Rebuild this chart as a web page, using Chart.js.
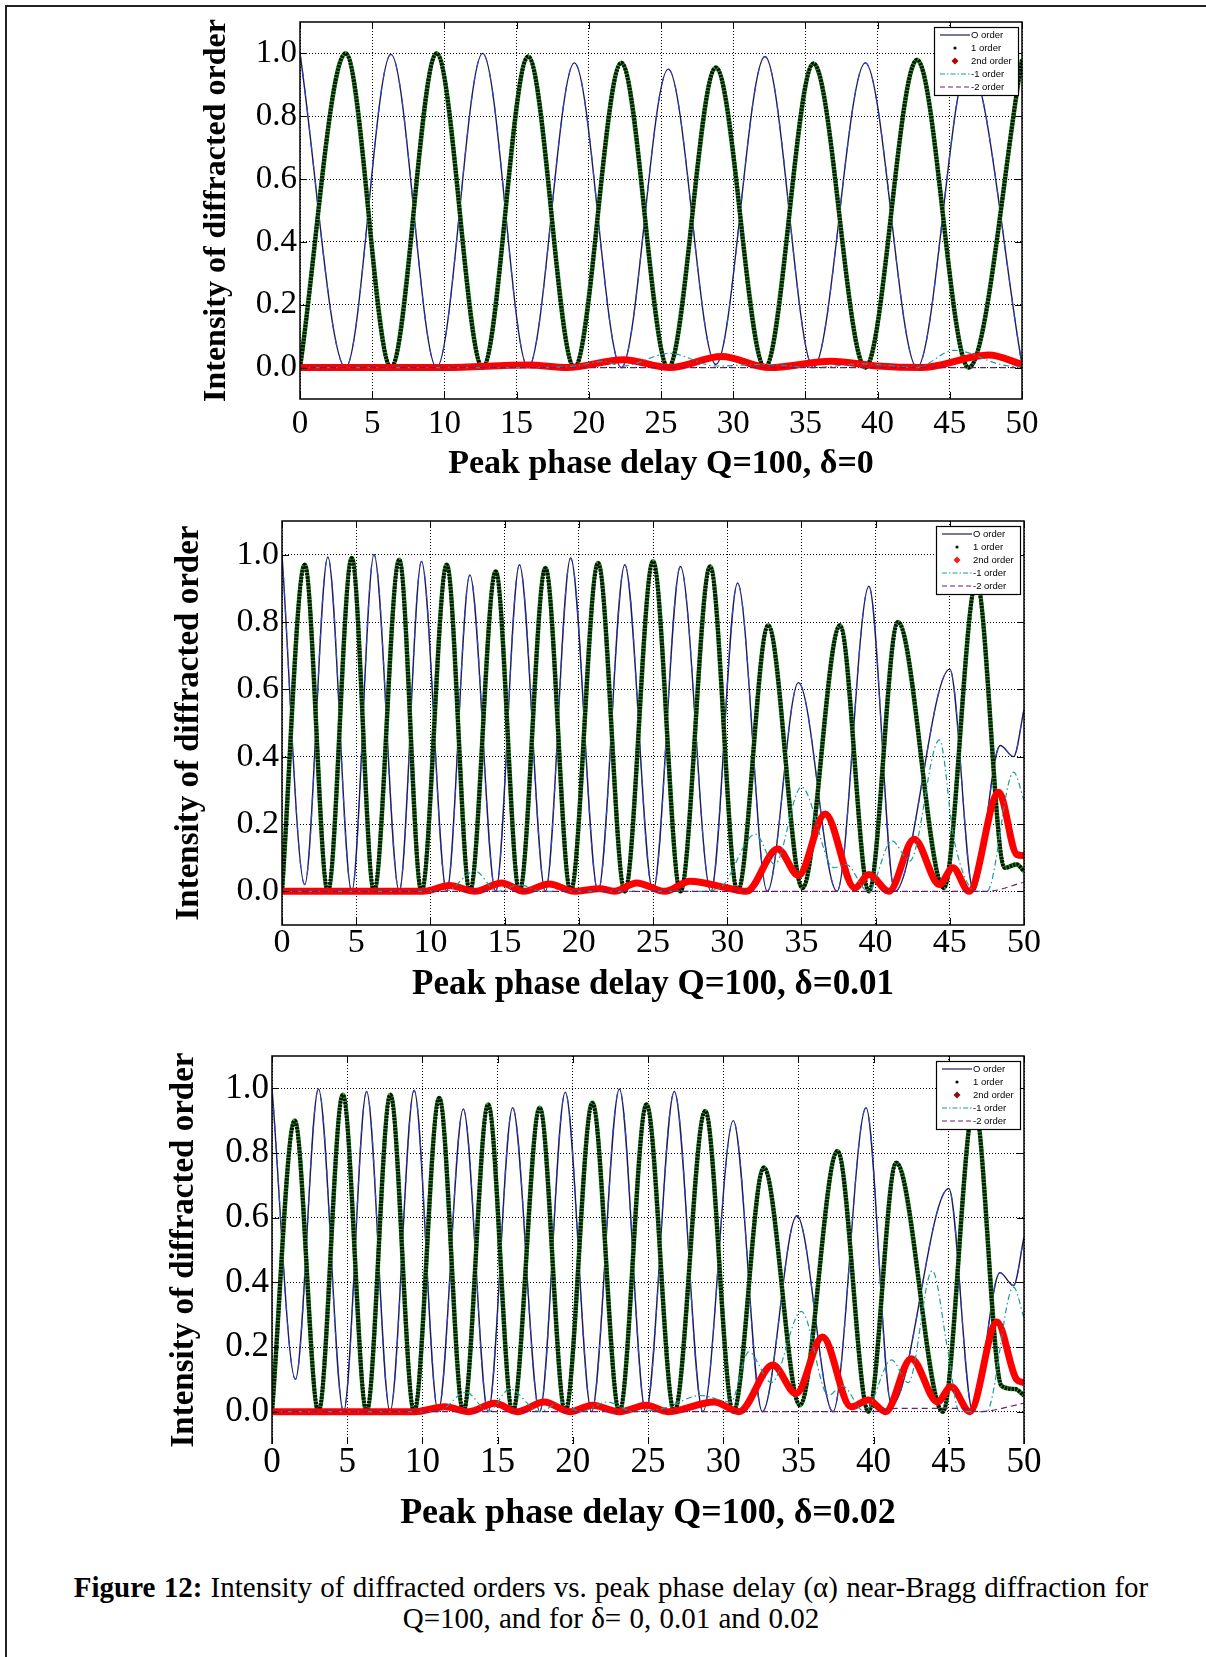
<!DOCTYPE html>
<html>
<head>
<meta charset="utf-8">
<title>Intensity of diffracted orders vs. peak phase delay</title>
<script src="https://cdn.jsdelivr.net/npm/chart.js@4.4.1/dist/chart.umd.min.js"></script>
<style>
  html, body { margin: 0; padding: 0; background: #fff; }
  body { width: 1206px; height: 1657px; position: relative; overflow: hidden; }
  .frame { position: absolute; left: 5px; top: 5px; width: 1220px; height: 1670px;
           border-top: 2px solid #222; border-left: 2px solid #222; }
  canvas { position: absolute; }
  .caption { position: absolute; left: 8px; width: 1206px; top: 1572px; text-align: center;
             font: 29px/31px "Liberation Serif", "Times New Roman", serif; color: #000; word-spacing: 1px; }
</style>
</head>
<body>
<div class="frame"></div>
<canvas id="chart1" width="900" height="490" style="left:150px; top:0px"></canvas>
<canvas id="chart2" width="900" height="520" style="left:150px; top:500px"></canvas>
<canvas id="chart3" width="900" height="510" style="left:150px; top:1030px"></canvas>
<div class="caption"><b>Figure 12:</b> Intensity of diffracted orders vs. peak phase delay (α) near-Bragg diffraction for<br>Q=100, and for δ= 0, 0.01 and 0.02</div>

<script>
// Axis ticks shared by the three panels
const xTicks = [0, 5, 10, 15, 20, 25, 30, 35, 40, 45, 50];
const yTicks = [0, 0.2, 0.4, 0.6, 0.8, 1.0];
const seriesNames = ['O order', '1 order', '2nd order', '-1 order', '-2 order'];

// Each series is a list of [phase delay, intensity] pairs (peaks and troughs)

// δ = 0
const order0_d0 = [[0,1.0],[3.16,0],[6.3,0.997],[9.46,0],[12.65,1.0],[15.8,0],[19.0,0.97],[22.25,0],
  [25.5,0.95],[28.8,0.01],[32.2,0.99],[35.56,0],[39.15,0.97],[42.73,0],[46.3,0.97],[50,0.01]];
const order1_d0 = [[0,0],[3.16,1.0],[6.3,0],[9.46,1.0],[12.65,0],[15.8,0.99],[19.0,0],[22.25,0.97],
  [25.5,0],[28.8,0.955],[32.2,0],[35.56,0.968],[39.15,0],[42.73,0.98],[46.3,0],[50,0.98]];
const order2_d0 = [[0,0],[10,0],[15.8,0.008],[18.5,0],[22.4,0.025],[25.6,0],[29.2,0.035],[32.5,0],
  [36.8,0.02],[40,0.005],[43,0],[47.7,0.04],[50,0.01]];
const orderM1_d0 = [[0,0],[16,0],[19,0.005],[21,0.02],[22.3,0.005],[25.6,0.045],[28.8,0.005],[32.2,0.01],
  [35.6,0],[39,0.012],[42.7,0],[45.3,0.055],[48.5,0.01],[50,0]];
const orderM2_d0 = [[0,0],[25,0],[50,0]];

// δ = 0.01
const order0_d1 = [[0,1.0],[1.53,0.02],[3.09,0.993],[4.7,0],[6.2,1.0],[7.9,0],[9.4,0.98],[11.1,0],
  [12.66,0.94],[14.4,0],[16.0,0.97],[17.75,0],[19.45,0.99],[21.3,0],[23.1,0.97],[25.0,0],[26.85,0.965],
  [28.9,0],[30.7,0.916],[32.7,0],[34.8,0.62],[37.4,0],[39.55,0.906],[41.3,0],[45.0,0.66],[46.6,0],
  [48.4,0.433],[49.3,0.40],[50,0.54]];
const order1_d1 = [[0,0],[1.53,0.97],[3.09,0],[4.7,0.99],[6.2,0],[7.9,0.985],[9.4,0],[11.1,0.97],
  [12.66,0],[14.4,0.95],[16.0,0],[17.75,0.96],[19.45,0],[21.3,0.975],[23.1,0],[25.0,0.98],[26.85,0],
  [28.85,0.965],[30.7,0],[32.76,0.79],[35.07,0.01],[37.6,0.79],[39.55,0],[41.5,0.80],[44.6,0.01],
  [46.8,0.92],[48.7,0.07],[49.5,0.08],[50,0.06]];
const order2_d1 = [[0,0],[9.5,0],[11.3,0.017],[13.0,0],[14.8,0.025],[16.3,0],[18.0,0.022],[19.7,0],
  [21.4,0.008],[22.4,0],[23.9,0.025],[25.8,0],[27.5,0.03],[30.0,0.01],[31.3,0],[33.4,0.126],[34.8,0.047],
  [36.6,0.23],[38.6,0.01],[39.55,0.05],[40.9,0],[42.6,0.155],[44.3,0.02],[45.2,0.07],[46.3,0],
  [48.3,0.294],[49.5,0.11],[50,0.106]];
const orderM1_d1 = [[0,0],[11,0],[13.0,0.06],[14.5,0],[16,0.02],[17.5,0],[28,0],[29.5,0.01],[31.9,0.17],
  [33.2,0.08],[35.0,0.31],[37.2,0.07],[38,0.08],[39.5,0],[41.1,0.15],[42.3,0.09],[44.3,0.45],[45.3,0.15],
  [46.8,0],[47.5,0],[49.3,0.354],[50,0.27]];
const orderM2_d1 = [[0,0],[47.5,0],[50,0.027]];

// δ = 0.02
const order0_d2 = [[0,1.0],[1.56,0.10],[3.09,0.998],[4.76,0],[6.29,0.99],[7.85,0],[9.45,0.994],[11.05,0],
  [12.72,0.936],[14.37,0],[16.0,0.94],[17.8,0],[19.5,0.988],[21.25,0],[23.1,0.998],[24.85,0],[26.75,0.99],
  [28.65,0],[30.67,0.90],[32.6,0],[34.9,0.606],[37.3,0],[39.5,0.94],[41.2,0.02],[45.0,0.69],[46.6,0],
  [48.4,0.43],[49.3,0.39],[50,0.54]];
const order1_d2 = [[0,0],[1.51,0.90],[3.09,0],[4.71,0.98],[6.29,0],[7.87,0.98],[9.45,0],[11.12,0.97],
  [12.72,0],[14.37,0.95],[16.0,0],[17.8,0.94],[19.5,0],[21.3,0.955],[23.1,0],[24.9,0.95],[26.75,0],
  [28.8,0.93],[30.67,0],[32.7,0.755],[35.1,0.02],[37.6,0.806],[39.66,0],[41.5,0.77],[44.6,0],
  [46.7,0.95],[48.5,0.08],[49.4,0.07],[50,0.05]];
const order2_d2 = [[0,0],[9.5,0],[11.5,0.015],[13.1,0],[14.8,0.026],[16.3,0],[18.1,0.03],[19.8,0],
  [21.3,0.02],[23.1,0],[24.9,0.02],[26.3,0],[29.4,0.03],[31.05,0],[33.3,0.144],[34.85,0.056],[36.6,0.231],
  [38.5,0.015],[39.66,0.036],[40.8,0],[42.5,0.164],[44.25,0.03],[45.15,0.077],[46.4,0],[48.2,0.277],
  [49.5,0.1],[50,0.09]];
const orderM1_d2 = [[0,0],[11,0],[12.9,0.06],[14.4,0],[15.8,0.07],[17.8,0],[19.2,0.03],[20.5,0],[22.3,0.03],
  [24,0],[26,0.01],[28.5,0.05],[30.5,0.03],[31.7,0.185],[33.2,0.09],[35.2,0.31],[37.0,0.05],[37.9,0.08],
  [39.4,0],[41.2,0.16],[42.3,0.09],[43.9,0.436],[44.9,0.2],[45.7,0],[47.5,0],[49.3,0.385],[50,0.29]];
const orderM2_d2 = [[0,0],[40,0],[41.5,0.01],[46,0.01],[47,0],[50,0.026]];

const serif = '"Liberation Serif", "Times New Roman", serif';
const sans = '"Liberation Sans", Arial, sans-serif';

const colors = {
  zero: '#1e1e55',
  zeroDash: '#3344cc',
  firstGlow: '#2f9f2f',
  first: '#041204',
  second: '#ff0000',
  minus1: '#1a9c9c',
  minus2: '#701a70'
};

function toPoints(pairs) {
  return pairs.map(p => ({ x: p[0], y: p[1] }));
}

// plot box with small inward ticks, MATLAB style
const plotBox = {
  id: 'plotBox',
  afterDatasetsDraw(chart, args, opts) {
    const { ctx, chartArea: a, scales: { x, y } } = chart;
    ctx.save();
    ctx.strokeStyle = '#000';
    ctx.lineWidth = 1.5;
    ctx.beginPath();
    if (opts.bottom) {
      ctx.rect(a.left, a.top, a.right - a.left, a.bottom - a.top);
    } else {
      ctx.moveTo(a.left, a.bottom);
      ctx.lineTo(a.left, a.top);
      ctx.lineTo(a.right, a.top);
      ctx.lineTo(a.right, a.bottom);
    }
    ctx.stroke();

    ctx.lineWidth = 1;
    ctx.beginPath();
    x.ticks.forEach(t => {
      const px = Math.round(x.getPixelForValue(t.value)) + 0.5;
      ctx.moveTo(px, a.top); ctx.lineTo(px, a.top + 7);
      ctx.moveTo(px, a.bottom); ctx.lineTo(px, a.bottom - 7);
    });
    y.ticks.forEach(t => {
      const py = Math.round(y.getPixelForValue(t.value)) + 0.5;
      ctx.moveTo(a.left, py); ctx.lineTo(a.left + 7, py);
      ctx.moveTo(a.right, py); ctx.lineTo(a.right - 7, py);
    });
    ctx.stroke();
    ctx.restore();
  }
};

// small boxed legend in the top right corner of the plot
const orderLegend = {
  id: 'orderLegend',
  afterDraw(chart, args, opts) {
    const { ctx, chartArea: a } = chart;
    const w = 84, h = 68;
    const left = a.right - 4 - w, top = a.top + 5;
    ctx.save();
    ctx.fillStyle = '#fff';
    ctx.fillRect(left, top, w, h);
    ctx.strokeStyle = '#000';
    ctx.lineWidth = 1.2;
    ctx.strokeRect(left + 0.5, top + 0.5, w, h);

    ctx.font = '9.5px ' + sans;
    ctx.textBaseline = 'middle';
    ctx.fillStyle = '#000';
    seriesNames.forEach((name, i) => {
      const cy = top + 8 + i * 13;
      const x0 = left + 6, x1 = left + 36, xm = (x0 + x1) / 2;
      ctx.save();
      ctx.lineWidth = 1.2;
      if (i === 0) {
        ctx.strokeStyle = colors.zero;
        ctx.beginPath(); ctx.moveTo(x0, cy); ctx.lineTo(x1, cy); ctx.stroke();
      } else if (i === 1) {
        ctx.fillStyle = colors.first;
        ctx.beginPath(); ctx.arc(xm, cy, 1.6, 0, Math.PI * 2); ctx.fill();
      } else if (i === 2) {
        ctx.fillStyle = opts.diamond;
        ctx.beginPath();
        ctx.moveTo(xm, cy - 3.5); ctx.lineTo(xm + 3.5, cy); ctx.lineTo(xm, cy + 3.5); ctx.lineTo(xm - 3.5, cy);
        ctx.closePath(); ctx.fill();
      } else if (i === 3) {
        ctx.strokeStyle = colors.minus1;
        ctx.setLineDash([5, 2, 1.5, 2]);
        ctx.beginPath(); ctx.moveTo(x0, cy); ctx.lineTo(x1, cy); ctx.stroke();
      } else {
        ctx.strokeStyle = colors.minus2;
        ctx.setLineDash([5, 3]);
        ctx.beginPath(); ctx.moveTo(x0, cy); ctx.lineTo(x1, cy); ctx.stroke();
      }
      ctx.restore();
      ctx.fillText(name, left + 37, cy + 0.5);
    });
    ctx.restore();
  }
};

function buildChart(id, series, look) {
  const line = { pointRadius: 0, cubicInterpolationMode: 'monotone', fill: false };
  const datasets = [
    Object.assign({ label: seriesNames[0], data: toPoints(series[0]), borderColor: colors.zero,
      borderWidth: 1.4, order: 7 }, line),
    Object.assign({ label: seriesNames[0], data: toPoints(series[0]), borderColor: colors.zeroDash,
      borderWidth: 1.2, borderDash: [7, 11], order: 6 }, line),
    Object.assign({ label: seriesNames[1], data: toPoints(series[1]), borderColor: colors.firstGlow,
      borderWidth: 4.6, order: 5 }, line),
    Object.assign({ label: seriesNames[1], data: toPoints(series[1]), borderColor: colors.first,
      borderWidth: 4, borderDash: [2.4, 1], order: 4 }, line),
    Object.assign({ label: seriesNames[2], data: toPoints(series[2]), borderColor: colors.second,
      borderWidth: 7, order: 3 }, line),
    Object.assign({ label: seriesNames[3], data: toPoints(series[3]), borderColor: colors.minus1,
      borderWidth: 1.2, borderDash: [6, 3, 1.5, 3], order: 2 }, line),
    Object.assign({ label: seriesNames[4], data: toPoints(series[4]), borderColor: colors.minus2,
      borderWidth: 1.2, borderDash: [6, 4], order: 1 }, line)
  ];

  return new Chart(document.getElementById(id), {
    type: 'line',
    data: { datasets },
    options: {
      responsive: false,
      animation: false,
      events: [],
      layout: { padding: { top: look.padTop, right: look.padRight, left: 0, bottom: 0 } },
      scales: {
        x: {
          type: 'linear',
          min: 0,
          max: 50,
          afterBuildTicks: s => { s.ticks = xTicks.map(v => ({ value: v })); },
          afterFit: s => { s.height = look.xHeight; },
          ticks: {
            autoSkip: false,
            maxRotation: 0,
            padding: look.xTickPad,
            color: '#000',
            font: { family: serif, size: look.tickSize, lineHeight: 1 },
            callback: v => String(v)
          },
          grid: { color: '#000', lineWidth: 1, drawTicks: false },
          border: { display: false, dash: [1, 2] },
          title: {
            display: true,
            text: look.xTitle,
            color: '#000',
            font: { family: serif, size: look.xTitleSize, weight: 'bold' },
            padding: { top: 0, bottom: look.xTitlePad }
          }
        },
        y: {
          type: 'linear',
          min: -0.1,
          max: 1.1,
          afterBuildTicks: s => { s.ticks = yTicks.map(v => ({ value: v })); },
          afterFit: s => { s.width = look.yWidth; },
          ticks: {
            padding: 3,
            color: '#000',
            font: { family: serif, size: look.tickSize, lineHeight: 1 },
            callback: v => v.toFixed(1)
          },
          grid: { color: '#000', lineWidth: 1, drawTicks: false },
          border: { display: false, dash: [1, 2] },
          title: {
            display: true,
            text: 'Intensity of diffracted order',
            color: '#000',
            font: { family: serif, size: look.yTitleSize, weight: 'bold' },
            padding: { top: look.yTitlePad, bottom: 0 }
          }
        }
      },
      plugins: {
        legend: { display: false },
        tooltip: { enabled: false },
        plotBox: { bottom: look.bottomLine },
        orderLegend: { diamond: look.diamond }
      }
    },
    plugins: [plotBox, orderLegend]
  });
}

buildChart('chart1', [order0_d0, order1_d0, order2_d0, orderM1_d0, orderM2_d0], {
  padTop: 22, padRight: 28, yWidth: 150, xHeight: 91, tickSize: 33, xTickPad: 9,
  xTitle: 'Peak phase delay Q=100, δ=0', xTitleSize: 34, xTitlePad: 5.6,
  yTitleSize: 32, yTitlePad: 47.8, bottomLine: true, diamond: '#b00000'
});

buildChart('chart2', [order0_d1, order1_d1, order2_d1, orderM1_d1, orderM2_d1], {
  padTop: 21, padRight: 26, yWidth: 132, xHeight: 95, tickSize: 34, xTickPad: 1,
  xTitle: 'Peak phase delay Q=100, δ=0.01', xTitleSize: 35, xTitlePad: 14,
  yTitleSize: 33, yTitlePad: 20, bottomLine: true, diamond: '#ff1a1a'
});

buildChart('chart3', [order0_d2, order1_d2, order2_d2, orderM1_d2, orderM2_d2], {
  padTop: 26, padRight: 26, yWidth: 122, xHeight: 96, tickSize: 35, xTickPad: 1,
  xTitle: 'Peak phase delay Q=100, δ=0.02', xTitleSize: 36, xTitlePad: 4.4,
  yTitleSize: 33, yTitlePad: 15, bottomLine: false, diamond: '#8b0f0f'
});
</script>
</body>
</html>
